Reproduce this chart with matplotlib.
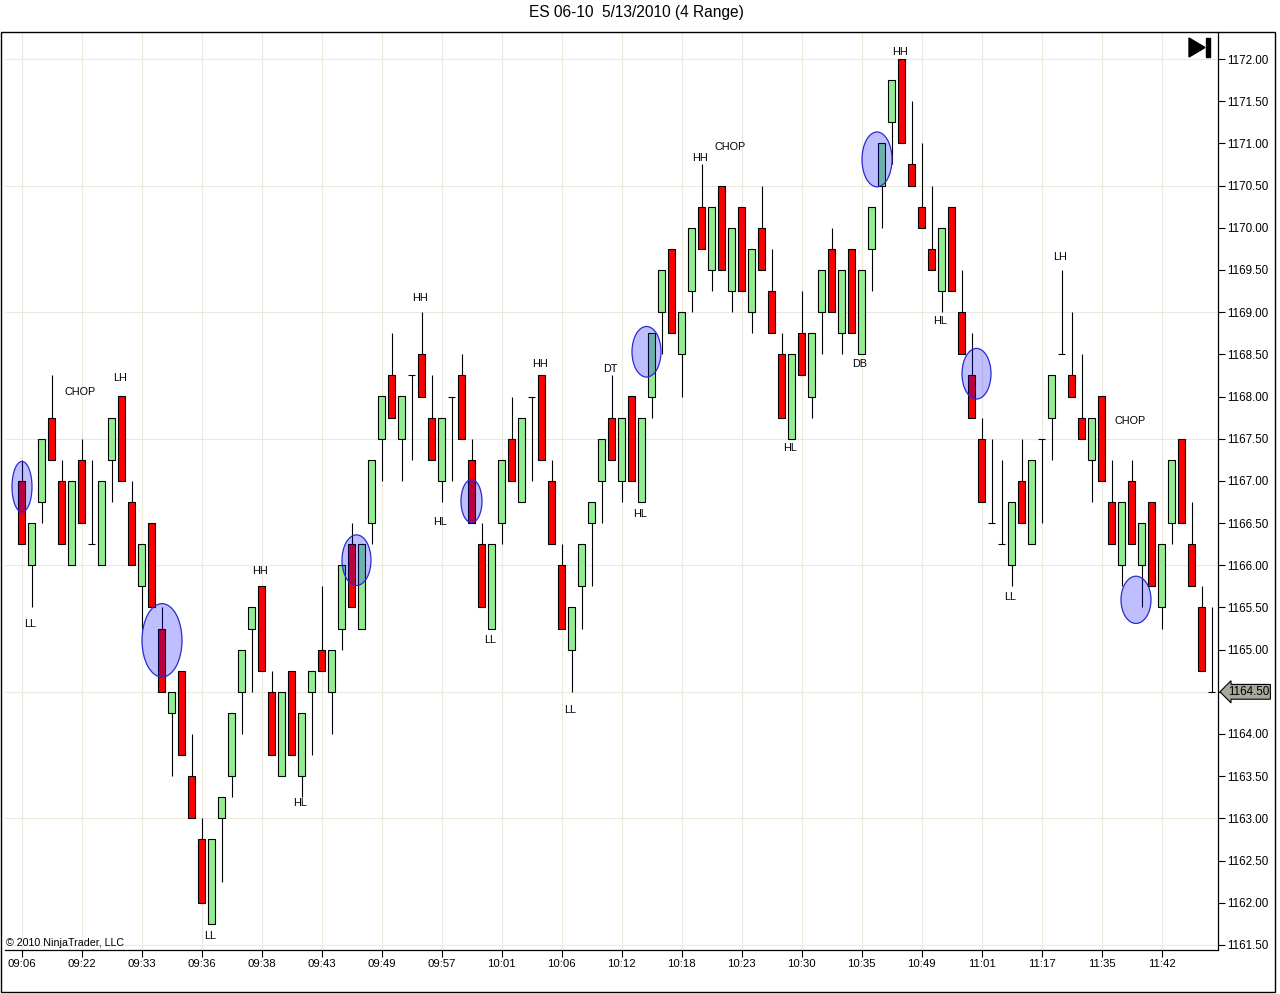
import matplotlib
matplotlib.use("Agg")
import matplotlib.pyplot as plt
from matplotlib.patches import Ellipse, Polygon, Rectangle
import numpy as np

plt.rcParams['font.family'] = ['Liberation Sans', 'DejaVu Sans']

# 4-point range bars, ES 06-10, 13 May 2010
opens = [1167.0, 1166.0, 1166.75, 1167.75, 1167.0, 1166.0, 1167.25, 1166.25, 1166.0, 1167.25,
         1168.0, 1166.75, 1165.75, 1166.5, 1165.25, 1164.25, 1164.75, 1163.5, 1162.75, 1161.75,
         1163.0, 1163.5, 1164.5, 1165.25, 1165.75, 1164.5, 1163.5, 1164.75, 1163.5, 1164.5,
         1165.0, 1164.5, 1165.25, 1166.25, 1165.25, 1166.5, 1167.5, 1168.25, 1167.5, 1168.25,
         1168.5, 1167.75, 1167.0, 1168.0, 1168.25, 1167.25, 1166.25, 1165.25, 1166.5, 1167.5,
         1166.75, 1168.0, 1168.25, 1167.0, 1166.0, 1165.0, 1165.75, 1166.5, 1167.0, 1167.75,
         1167.0, 1168.0, 1166.75, 1168.0, 1169.0, 1169.75, 1168.5, 1169.25, 1170.25, 1169.5,
         1170.5, 1169.25, 1170.25, 1169.0, 1170.0, 1169.25, 1168.5, 1167.5, 1168.75, 1168.0,
         1169.0, 1169.75, 1168.75, 1169.75, 1168.5, 1169.75, 1170.5, 1171.25, 1172.0, 1170.75,
         1170.25, 1169.75, 1169.25, 1170.25, 1169.0, 1168.25, 1167.5, 1166.5, 1166.25, 1166.0,
         1167.0, 1166.25, 1167.5, 1167.75, 1168.5, 1168.25, 1167.75, 1167.25, 1168.0, 1166.75,
         1166.0, 1167.0, 1166.0, 1166.75, 1165.5, 1166.5, 1167.5, 1166.25, 1165.5, 1164.5]
highs = [1167.25, 1166.5, 1167.5, 1168.25, 1167.25, 1167.0, 1167.5, 1167.25, 1167.0, 1167.75,
         1168.0, 1167.0, 1166.25, 1166.5, 1165.5, 1164.5, 1164.75, 1164.0, 1163.0, 1162.75,
         1163.25, 1164.25, 1165.0, 1165.5, 1165.75, 1164.75, 1164.5, 1164.75, 1164.25, 1164.75,
         1165.75, 1165.0, 1166.0, 1166.5, 1166.25, 1167.25, 1168.0, 1168.75, 1168.0, 1168.25,
         1169.0, 1168.25, 1167.75, 1168.0, 1168.5, 1167.5, 1166.5, 1166.25, 1167.25, 1168.0,
         1167.75, 1168.0, 1168.25, 1167.25, 1166.25, 1165.5, 1166.25, 1166.75, 1167.5, 1168.25,
         1167.75, 1168.0, 1167.75, 1168.75, 1169.5, 1169.75, 1169.0, 1170.0, 1170.75, 1170.25,
         1170.5, 1170.0, 1170.25, 1169.75, 1170.5, 1169.75, 1168.75, 1168.5, 1169.25, 1168.75,
         1169.5, 1170.0, 1169.5, 1169.75, 1169.5, 1170.25, 1171.0, 1171.75, 1172.0, 1171.5,
         1171.0, 1170.5, 1170.0, 1170.25, 1169.5, 1168.75, 1167.75, 1167.5, 1167.25, 1166.75,
         1167.5, 1167.25, 1167.5, 1168.25, 1169.5, 1169.0, 1168.5, 1167.75, 1168.0, 1167.25,
         1166.75, 1167.25, 1166.5, 1166.75, 1166.25, 1167.25, 1167.5, 1166.75, 1165.75, 1165.5]
lows = [1166.25, 1165.5, 1166.5, 1167.25, 1166.25, 1166.0, 1166.5, 1166.25, 1166.0, 1166.75,
        1167.0, 1166.0, 1165.25, 1165.5, 1164.5, 1163.5, 1163.75, 1163.0, 1162.0, 1161.75,
        1162.25, 1163.25, 1164.0, 1164.5, 1164.75, 1163.75, 1163.5, 1163.75, 1163.25, 1163.75,
        1164.75, 1164.0, 1165.0, 1165.5, 1165.25, 1166.25, 1167.0, 1167.75, 1167.0, 1167.25,
        1168.0, 1167.25, 1166.75, 1167.0, 1167.5, 1166.5, 1165.5, 1165.25, 1166.25, 1167.0,
        1166.75, 1167.0, 1167.25, 1166.25, 1165.25, 1164.5, 1165.25, 1165.75, 1166.5, 1167.25,
        1166.75, 1167.0, 1166.75, 1167.75, 1168.5, 1168.75, 1168.0, 1169.0, 1169.75, 1169.25,
        1169.5, 1169.0, 1169.25, 1168.75, 1169.5, 1168.75, 1167.75, 1167.5, 1168.25, 1167.75,
        1168.5, 1169.0, 1168.5, 1168.75, 1168.5, 1169.25, 1170.0, 1170.75, 1171.0, 1170.5,
        1170.0, 1169.5, 1169.0, 1169.25, 1168.5, 1167.75, 1166.75, 1166.5, 1166.25, 1165.75,
        1166.5, 1166.25, 1166.5, 1167.25, 1168.5, 1168.0, 1167.5, 1166.75, 1167.0, 1166.25,
        1165.75, 1166.25, 1165.5, 1165.75, 1165.25, 1166.25, 1166.5, 1165.75, 1164.75, 1164.5]
closes = [1166.25, 1166.5, 1167.5, 1167.25, 1166.25, 1167.0, 1166.5, 1166.25, 1167.0, 1167.75,
          1167.0, 1166.0, 1166.25, 1165.5, 1164.5, 1164.5, 1163.75, 1163.0, 1162.0, 1162.75,
          1163.25, 1164.25, 1165.0, 1165.5, 1164.75, 1163.75, 1164.5, 1163.75, 1164.25, 1164.75,
          1164.75, 1165.0, 1166.0, 1165.5, 1166.25, 1167.25, 1168.0, 1167.75, 1168.0, 1168.25,
          1168.0, 1167.25, 1167.75, 1168.0, 1167.5, 1166.5, 1165.5, 1166.25, 1167.25, 1167.0,
          1167.75, 1168.0, 1167.25, 1166.25, 1165.25, 1165.5, 1166.25, 1166.75, 1167.5, 1167.25,
          1167.75, 1167.0, 1167.75, 1168.75, 1169.5, 1168.75, 1169.0, 1170.0, 1169.75, 1170.25,
          1169.5, 1170.0, 1169.25, 1169.75, 1169.5, 1168.75, 1167.75, 1168.5, 1168.25, 1168.75,
          1169.5, 1169.0, 1169.5, 1168.75, 1169.5, 1170.25, 1171.0, 1171.75, 1171.0, 1170.5,
          1170.0, 1169.5, 1170.0, 1169.25, 1168.5, 1167.75, 1166.75, 1166.5, 1166.25, 1166.75,
          1166.5, 1167.25, 1167.5, 1168.25, 1168.5, 1168.0, 1167.5, 1167.75, 1167.0, 1166.25,
          1166.75, 1166.25, 1166.5, 1165.75, 1166.25, 1167.25, 1166.5, 1165.75, 1164.75, 1164.5]

time_labels = ['09:06', '09:22', '09:33', '09:36', '09:38', '09:43', '09:49', '09:57', '10:01', '10:06',
               '10:12', '10:18', '10:23', '10:30', '10:35', '10:49', '11:01', '11:17', '11:35', '11:42']
label_every = 6

# swing labels drawn on the chart: (bar, price, text)
swing_bars = [0.85, 5.85, 9.85, 18.85, 23.85, 27.85, 39.85, 41.85, 46.85, 51.85, 54.85,
              58.85, 61.85, 67.85, 70.85, 76.85, 83.85, 87.85, 91.85, 98.85, 103.85, 110.85]
swing_prices = [1165.30, 1168.05, 1168.22, 1161.61, 1165.93, 1163.18, 1169.17, 1166.51, 1165.11,
                1168.39, 1164.28, 1168.33, 1166.61, 1170.83, 1170.96, 1167.39, 1168.39, 1172.08,
                1168.90, 1165.62, 1169.65, 1167.71]
swing_text = ['LL', 'CHOP', 'LH', 'LL', 'HH', 'HL', 'HH', 'HL', 'LL', 'HH', 'LL',
              'DT', 'HL', 'HH', 'CHOP', 'HL', 'DB', 'HH', 'HL', 'LL', 'LH', 'CHOP']

# blue ellipses: (bar, price, width in bars, height in points)
circle_bars = [0.05, 14.05, 33.5, 45.0, 62.5, 85.55, 95.5, 111.45]
circle_prices = [1166.93, 1165.11, 1166.06, 1166.76, 1168.53, 1170.81, 1168.27, 1165.59]
circle_w = [2.0, 4.0, 2.9, 2.1, 2.9, 3.0, 2.9, 3.0]
circle_h = [0.60, 0.87, 0.60, 0.51, 0.60, 0.65, 0.60, 0.56]

last_price = 1164.50

W, H = 1280, 994
fig = plt.figure(figsize=(W / 100, H / 100), dpi=100)
fig.patch.set_facecolor('white')
ax = fig.add_axes([5 / W, 44 / H, 1213 / W, 918 / H])

n = len(opens)
x = np.arange(n)
o = np.array(opens); h = np.array(highs); l = np.array(lows); c = np.array(closes)

ax.set_xlim(-1.65, n - 0.35)
ax.set_ylim(1161.44, 1172.32)

# grid
for gy in np.arange(1161.5, 1172.01, 1.5):
    ax.axhline(gy, color='#ece9dc', lw=0.8, zorder=0)
tick_pos = x[::label_every]
for gx in tick_pos:
    ax.axvline(gx, color='#ece9dc', lw=0.8, zorder=0)

# wicks
ax.vlines(x, l, h, color='black', lw=0.8, zorder=2)

up = c > o
down = c < o
doji = c == o
bw = 0.65
ax.bar(x[up], (c - o)[up], bottom=o[up], width=bw, color='#90ee90',
       edgecolor='black', linewidth=0.8, zorder=3)
ax.bar(x[down], (o - c)[down], bottom=c[down], width=bw, color='#ff0000',
       edgecolor='black', linewidth=0.8, zorder=3)
ax.hlines(o[doji], x[doji] - 0.35, x[doji] + 0.35, color='black', lw=0.8, zorder=3)

for bx, py, wd, ht in zip(circle_bars, circle_prices, circle_w, circle_h):
    ax.add_patch(Ellipse((bx, py), wd, ht, facecolor=(0, 0, 1, 0.25),
                         edgecolor='#2a2ad0', lw=0.9, zorder=4))

for bx, py, t in zip(swing_bars, swing_prices, swing_text):
    ax.text(bx, py, t, fontsize=7.8, ha='center', va='center', zorder=5)

# axes styling
for s in ['top', 'left']:
    ax.spines[s].set_visible(False)
ax.spines['right'].set_linewidth(0.9)
ax.spines['bottom'].set_linewidth(0.9)
ax.yaxis.tick_right()
ax.set_yticks(np.arange(1161.5, 1172.01, 0.5))
ax.set_yticklabels(['%.2f' % v for v in np.arange(1161.5, 1172.01, 0.5)], fontsize=8.4)
ax.set_xticks(tick_pos)
ax.set_xticklabels(time_labels, fontsize=8.2)
ax.tick_params(axis='both', direction='out', length=5, width=0.8, pad=1.5)

# last price marker
ax.annotate('%.2f' % last_price, xy=(1.0, last_price), xycoords=('axes fraction', 'data'),
            xytext=(7, 0), textcoords='offset points', fontsize=8.4, va='center', ha='left',
            bbox=dict(boxstyle='larrow,pad=0.12', fc='#a8a89c', ec='black', lw=0.8), zorder=6)

fig.text(636 / W, 1 - 13 / H, 'ES 06-10  5/13/2010 (4 Range)', ha='center', va='center', fontsize=11.2)
fig.text(6 / W, 1 - 943 / H, '\u00a9 2010 NinjaTrader, LLC', ha='left', va='center', fontsize=7.7)

# outer frame
fig.patches.append(Rectangle((1 / W, 2 / H), 1274 / W, 960 / H, transform=fig.transFigure,
                             fill=False, ec='black', lw=1.0))
# "go to end" icon
fig.patches.append(Polygon([[1189 / W, 1 - 38 / H], [1189 / W, 1 - 57 / H], [1205 / W, 1 - 47.5 / H]],
                           closed=True, transform=fig.transFigure, fc='black', ec='black'))
fig.patches.append(Rectangle((1206 / W, 1 - 57 / H), 4 / W, 19 / H, transform=fig.transFigure,
                             fc='black', ec='black'))

fig.savefig('out.png', dpi=100)
